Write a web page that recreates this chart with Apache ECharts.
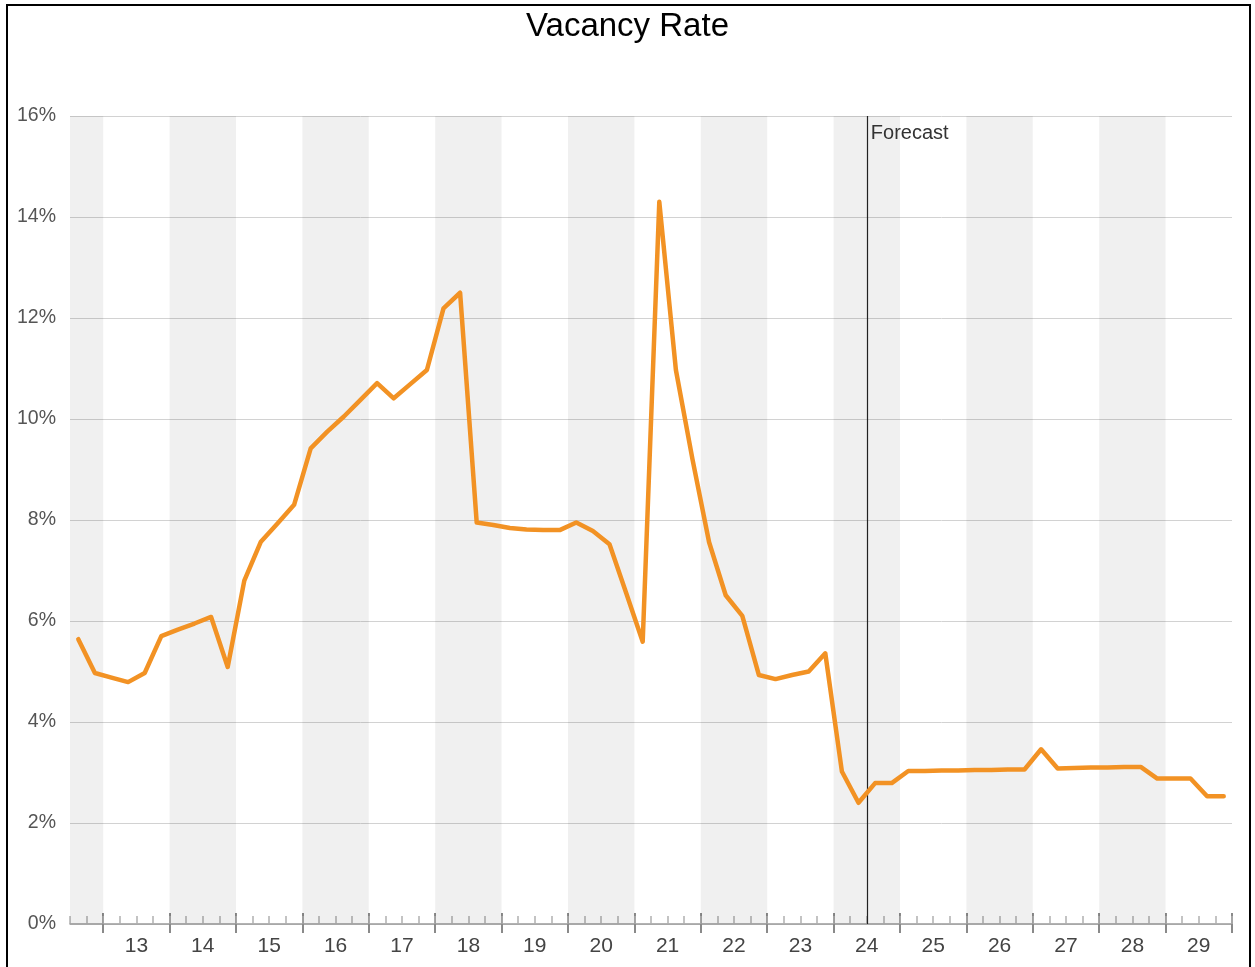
<!DOCTYPE html>
<html>
<head>
<meta charset="utf-8">
<title>Vacancy Rate</title>
<script src="https://cdn.jsdelivr.net/npm/echarts@6/dist/echarts.min.js"></script>
<style>
  html, body { margin: 0; padding: 0; background: #fff; }
  #chart { position: absolute; left: 0; top: 0; width: 1255px; height: 967px; }
  #frame { position: absolute; left: 6px; top: 4px; width: 1245px; height: 963px;
           border: 2px solid #000; border-bottom: none; box-sizing: border-box; pointer-events: none; }
</style>
</head>
<body>
<div id="chart"></div>
<div id="frame"></div>
<script>
// Quarterly vacancy rate (%), first value is 2012 Q3, last is 2029 Q4
const chartTitle = 'Vacancy Rate';
const firstYear = 2012;
const firstQuarter = 3;
const vacancyRate = [
  5.64, 4.97,                         // 2012 Q3-Q4
  4.88, 4.79, 4.97, 5.70,             // 2013
  5.83, 5.95, 6.08, 5.09,             // 2014
  6.80, 7.57, 7.93, 8.30,             // 2015
  9.42, 9.75, 10.05, 10.38,           // 2016
  10.71, 10.41, 10.69, 10.97,         // 2017
  12.19, 12.50, 7.95, 7.90,           // 2018
  7.84, 7.81, 7.80, 7.80,             // 2019
  7.95, 7.78, 7.52, 6.56,             // 2020
  5.59, 14.30, 10.97, 9.20,           // 2021
  7.56, 6.51, 6.10, 4.93,             // 2022
  4.85, 4.93, 5.00, 5.36,             // 2023
  3.02, 2.40, 2.79, 2.79,             // 2024
  3.03, 3.03, 3.04, 3.04,             // 2025
  3.05, 3.05, 3.06, 3.06,             // 2026
  3.46, 3.08, 3.09, 3.10,             // 2027
  3.10, 3.11, 3.11, 2.88,             // 2028
  2.88, 2.88, 2.53, 2.53              // 2029
];

// Axis text and ranges
const yearLabels = ['13','14','15','16','17','18','19','20','21','22','23','24','25','26','27','28','29'];
const shadedYears = [2012, 2014, 2016, 2018, 2020, 2022, 2024, 2026, 2028];
const xMin = 2012.5;
const xMax = 2030;
const yMax = 16;
const yStep = 2;
const forecastStart = 2024.5;
const forecastLabel = 'Forecast';

// Each quarter is plotted at its midpoint on a decimal-year axis
const points = vacancyRate.map((v, i) => {
  const q = firstQuarter - 1 + i;
  return [firstYear + q * 0.25 + 0.125, v];
});

const labelYears = yearLabels.map(l => 2000 + Number(l));
const labelPositions = labelYears.map(y => y + 0.5);
const yearBoundaries = labelYears.concat([labelYears[labelYears.length - 1] + 1]);

const bands = shadedYears.map(y => [
  { xAxis: Math.max(y, xMin) },
  { xAxis: Math.min(y + 1, xMax) }
]);

const fontFamily = '"Liberation Sans", Arial, sans-serif';

const baseX = {
  type: 'value', min: xMin, max: xMax, position: 'bottom',
  splitLine: { show: false }
};

const chart = echarts.init(document.getElementById('chart'), null, { renderer: 'canvas' });
chart.setOption({
  animation: false,
  backgroundColor: '#fff',
  textStyle: { fontFamily },
  title: {
    text: chartTitle, left: 'center', top: 5,
    textStyle: { fontSize: 33, fontWeight: 'normal', color: '#000', fontFamily }
  },
  grid: { left: 70, right: 23, top: 116, bottom: 43, containLabel: false },
  xAxis: [
    Object.assign({}, baseX, {
      axisLine: { show: true, lineStyle: { color: '#9a9a9a', width: 1.5 } },
      axisTick: { show: true, customValues: yearBoundaries, inside: false, length: 9,
                  lineStyle: { color: '#8a8a8a', width: 2 } },
      axisLabel: {
        show: true, customValues: labelPositions, margin: 12,
        fontSize: 21, color: '#444', fontFamily,
        formatter: v => {
          const idx = labelPositions.findIndex(p => Math.abs(p - v) < 1e-6);
          return idx >= 0 ? yearLabels[idx] : '';
        }
      }
    }),
    Object.assign({}, baseX, {
      axisLine: { show: false },
      axisLabel: { show: false },
      axisTick: { show: true, customValues: yearBoundaries, inside: true, length: 11,
                  lineStyle: { color: '#8a8a8a', width: 2 } }
    }),
    Object.assign({}, baseX, {
      interval: 0.25,
      axisLine: { show: false },
      axisLabel: { show: false },
      axisTick: { show: true, inside: true, length: 8,
                  lineStyle: { color: '#b0b0b0', width: 1.5 } }
    })
  ],
  yAxis: {
    type: 'value', min: 0, max: yMax, interval: yStep,
    axisLine: { show: false },
    axisTick: { show: false },
    axisLabel: { formatter: '{value}%', fontSize: 19.5, color: '#555', margin: 14, fontFamily },
    splitLine: { lineStyle: { color: '#d2d2d2', width: 1 } }
  },
  series: [{
    type: 'line',
    name: chartTitle,
    xAxisIndex: 0,
    data: points,
    showSymbol: false,
    symbol: 'none',
    lineStyle: { color: '#F29224', width: 4.5, cap: 'round', join: 'round' },
    itemStyle: { color: '#F29224' },
    z: 5,
    markArea: {
      silent: true,
      itemStyle: { color: 'rgba(0,0,0,0.06)' },
      data: bands
    },
    markLine: {
      silent: true,
      symbol: 'none',
      label: { show: false },
      lineStyle: { color: '#222', width: 1.2, type: 'solid' },
      data: [{ xAxis: forecastStart }]
    },
    markPoint: {
      silent: true,
      symbol: 'circle',
      symbolSize: 0,
      label: {
        show: true, position: 'right', distance: 4, offset: [0, 17],
        formatter: forecastLabel, fontSize: 20, color: '#333', fontFamily
      },
      data: [{ coord: [forecastStart, yMax] }]
    }
  }]
});
</script>
</body>
</html>
